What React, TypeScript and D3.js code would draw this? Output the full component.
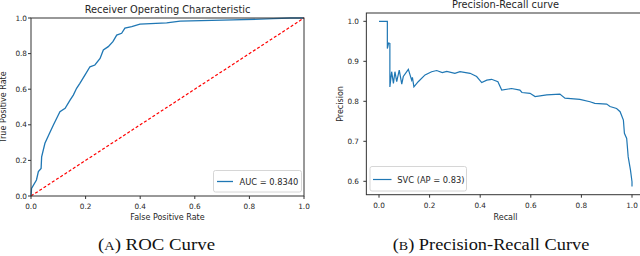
import * as d3 from "d3";

// ROC curve
const rocFpr = [0, 0.002, 0.02, 0.027, 0.037, 0.039, 0.051, 0.07, 0.082, 0.1, 0.106, 0.125, 0.143, 0.155, 0.167, 0.179, 0.198, 0.216, 0.234, 0.253, 0.265, 0.283, 0.3, 0.314, 0.332, 0.344, 0.369, 0.399, 0.497, 0.546, 0.74, 0.887, 0.95, 1.0];
const rocTpr = [0, 0.043, 0.09, 0.137, 0.155, 0.22, 0.296, 0.36, 0.399, 0.455, 0.474, 0.493, 0.539, 0.567, 0.605, 0.633, 0.68, 0.726, 0.736, 0.773, 0.82, 0.839, 0.867, 0.904, 0.914, 0.943, 0.952, 0.966, 0.973, 0.983, 0.989, 0.996, 1.0, 1.0];

// Precision-recall curve
const prRecall = [0, 0.033, 0.033, 0.038, 0.043, 0.043, 0.05, 0.057, 0.063, 0.07, 0.08, 0.09, 0.096, 0.116, 0.129, 0.132, 0.138, 0.155, 0.182, 0.208, 0.228, 0.25, 0.268, 0.3, 0.32, 0.36, 0.386, 0.406, 0.426, 0.445, 0.47, 0.485, 0.524, 0.557, 0.565, 0.597, 0.617, 0.663, 0.715, 0.735, 0.794, 0.834, 0.853, 0.9, 0.913, 0.939, 0.953, 0.966, 0.97, 0.979, 0.985, 0.994, 1.0, 1.0];
const prPrecision = [1.0, 1.0, 0.932, 0.946, 0.945, 0.836, 0.874, 0.845, 0.874, 0.849, 0.878, 0.843, 0.862, 0.88, 0.853, 0.86, 0.836, 0.849, 0.866, 0.874, 0.877, 0.872, 0.875, 0.87, 0.874, 0.87, 0.862, 0.847, 0.853, 0.855, 0.849, 0.828, 0.832, 0.828, 0.822, 0.82, 0.812, 0.816, 0.818, 0.808, 0.805, 0.799, 0.795, 0.793, 0.787, 0.782, 0.774, 0.753, 0.72, 0.707, 0.661, 0.628, 0.599, 0.587];

const rocTicks = [0, 0.2, 0.4, 0.6, 0.8, 1.0];
const prXTicks = [0, 0.2, 0.4, 0.6, 0.8, 1.0];
const prYTicks = [0.6, 0.7, 0.8, 0.9, 1.0];

const BLUE = "#1f77b4";
const SPINE = "#333";
const SANS = "DejaVu Sans, sans-serif";
const SERIF = "Liberation Serif, serif";

export default function App() {
  // left panel scales
  const rx = d3.scaleLinear().domain([0, 1]).range([31, 304]);
  const ry = d3.scaleLinear().domain([0, 1]).range([196, 18]);
  // right panel scales (matplotlib margins)
  const px = d3.scaleLinear().domain([-0.05, 1.05]).range([366.35, 644.65]);
  const py = d3.scaleLinear().domain([0.5665, 1.0208]).range([194.7, 13]);

  const rocLine = d3
    .line<number>()
    .x((d) => rx(d))
    .y((_, i) => ry(rocTpr[i]));
  const prLine = d3
    .line<number>()
    .x((d) => px(d))
    .y((_, i) => py(prPrecision[i]));

  return (
    <div style={{ position: "absolute", left: 0, top: 0 }}>
      <svg width={640} height={256} style={{ display: "block", background: "#fff" }}>
        {/* ---------- ROC ---------- */}
        <g fontFamily={SANS} fill="#262626">
          <text x={167.5} y={12.5} fontSize={9.8} textAnchor="middle">
            Receiver Operating Characteristic
          </text>
          <path d={rocLine(rocFpr) || ""} fill="none" stroke={BLUE} strokeWidth={1.3} />
          <line x1={rx(0)} y1={ry(0)} x2={rx(1)} y2={ry(1)} stroke="#ff0000" strokeWidth={1.2} strokeDasharray="3,2" />
          <rect x={rx(0)} y={ry(1)} width={rx(1) - rx(0)} height={ry(0) - ry(1)} fill="none" stroke={SPINE} strokeWidth={1} />
          {rocTicks.map((t) => (
            <g key={"rx" + t}>
              <line x1={rx(t)} x2={rx(t)} y1={ry(0)} y2={ry(0) + 3} stroke={SPINE} />
              <text x={rx(t)} y={208.5} fontSize={7.3} textAnchor="middle">
                {t.toFixed(1)}
              </text>
            </g>
          ))}
          {rocTicks.map((t) => (
            <g key={"ry" + t}>
              <line x1={rx(0) - 3} x2={rx(0)} y1={ry(t)} y2={ry(t)} stroke={SPINE} />
              <text x={27} y={ry(t)} dy="0.35em" fontSize={7.3} textAnchor="end">
                {t.toFixed(1)}
              </text>
            </g>
          ))}
          <text x={167.5} y={220} fontSize={8} textAnchor="middle">
            False Positive Rate
          </text>
          <text transform={`translate(6,107) rotate(-90)`} fontSize={8} textAnchor="middle">
            True Positive Rate
          </text>
          <rect x={213.5} y={170.5} width={88} height={21.5} rx={2} fill="#fff" fillOpacity={0.8} stroke="#ccc" strokeWidth={0.8} />
          <line x1={217} x2={233} y1={181.5} y2={181.5} stroke={BLUE} strokeWidth={1.3} />
          <text x={239.5} y={184.5} fontSize={8.3}>
            AUC = 0.8340
          </text>
        </g>

        {/* ---------- Precision-Recall ---------- */}
        <g fontFamily={SANS} fill="#262626">
          <text x={505.5} y={8} fontSize={9.8} textAnchor="middle">
            Precision-Recall curve
          </text>
          <path d={prLine(prRecall) || ""} fill="none" stroke={BLUE} strokeWidth={1.2} />
          <rect x={px(-0.05)} y={py(1.0208)} width={px(1.05) - px(-0.05)} height={py(0.5665) - py(1.0208)} fill="none" stroke={SPINE} strokeWidth={1} />
          {prXTicks.map((t) => (
            <g key={"px" + t}>
              <line x1={px(t)} x2={px(t)} y1={194.7} y2={197.7} stroke={SPINE} />
              <text x={px(t)} y={208} fontSize={7.3} textAnchor="middle">
                {t.toFixed(1)}
              </text>
            </g>
          ))}
          {prYTicks.map((t) => (
            <g key={"py" + t}>
              <line x1={px(-0.05) - 3} x2={px(-0.05)} y1={py(t)} y2={py(t)} stroke={SPINE} />
              <text x={359} y={py(t)} dy="0.35em" fontSize={7.3} textAnchor="end">
                {t.toFixed(1)}
              </text>
            </g>
          ))}
          <text x={505.5} y={219.5} fontSize={8} textAnchor="middle">
            Recall
          </text>
          <text transform={`translate(342.5,104) rotate(-90)`} fontSize={8} textAnchor="middle">
            Precision
          </text>
          <rect x={370} y={166.5} width={96.5} height={24.5} rx={2} fill="#fff" fillOpacity={0.8} stroke="#ccc" strokeWidth={0.8} />
          <line x1={373} x2={391.5} y1={179.5} y2={179.5} stroke={BLUE} strokeWidth={1.2} />
          <text x={397.3} y={182.5} fontSize={8.3}>
            SVC (AP = 0.83)
          </text>
        </g>

        {/* ---------- captions ---------- */}
        <g fontFamily={SERIF} fill="#111">
          <text x={98} y={250} fontSize={17} textLength={117} lengthAdjust="spacingAndGlyphs">
            (<tspan fontSize={13}>A</tspan>) ROC Curve
          </text>
          <text x={392.7} y={250} fontSize={17} textLength={196.6} lengthAdjust="spacingAndGlyphs">
            (<tspan fontSize={13}>B</tspan>) Precision-Recall Curve
          </text>
        </g>
      </svg>
    </div>
  );
}
